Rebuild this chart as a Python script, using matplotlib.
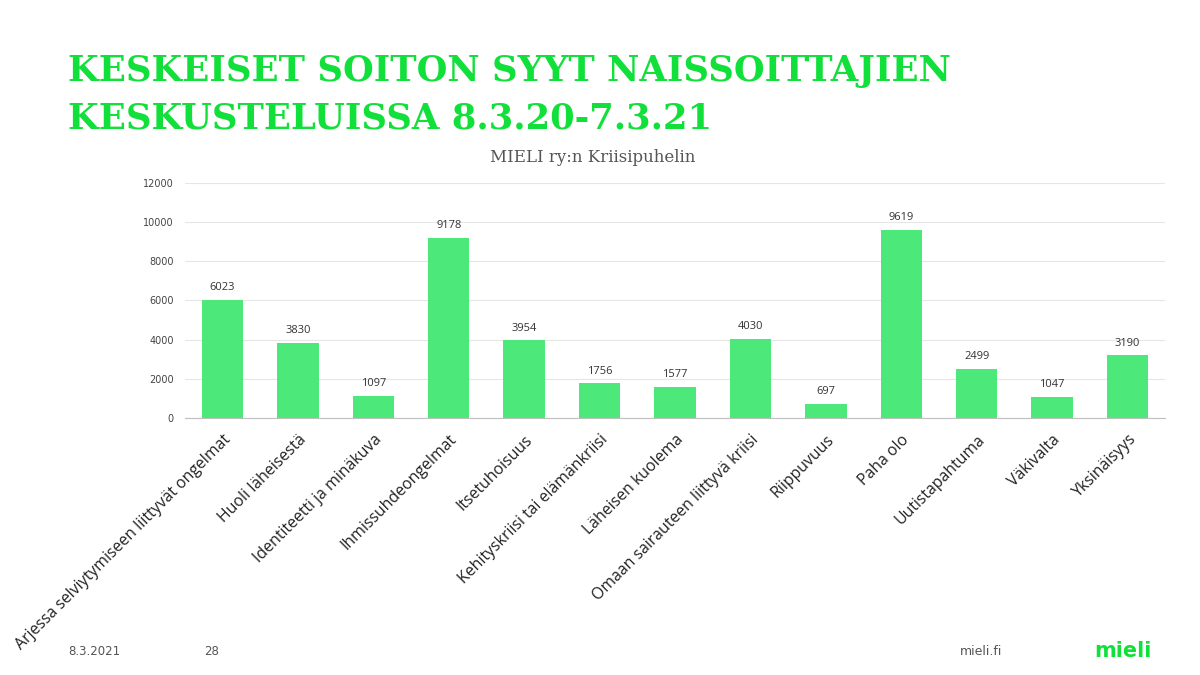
import matplotlib
matplotlib.use("Agg")
import matplotlib.pyplot as plt

categories = ["Arjessa selviytymiseen liittyvät ongelmat", "Huoli läheisestä", "Identiteetti ja minäkuva",
              "Ihmissuhdeongelmat", "Itsetuhoisuus", "Kehityskriisi tai elämänkriisi", "Läheisen kuolema",
              "Omaan sairauteen liittyvä kriisi", "Riippuvuus", "Paha olo", "Uutistapahtuma", "Väkivalta",
              "Yksinäisyys"]
values = [6023, 3830, 1097, 9178, 3954, 1756, 1577, 4030, 697, 9619, 2499, 1047, 3190]
yticks = [0, 2000, 4000, 6000, 8000, 10000, 12000]

fig = plt.figure(figsize=(12, 6.75), dpi=100)
ax = fig.add_axes([0.154, 0.381, 0.817, 0.348])
x = range(len(categories))
ax.bar(x, values, width=0.55, color="#4de87a")
for xi, v in zip(x, values):
    ax.text(xi, v + 350, str(v), ha="center", va="bottom", fontsize=8, color="#333333", family="Open Sans")
ax.set_ylim(0, 12000)
ax.set_xlim(-0.5, len(categories) - 0.5)
ax.set_yticks(yticks)
ax.set_yticklabels([str(t) for t in yticks], fontsize=7, color="#444444")
ax.set_xticks(list(x))
ax.set_xticklabels(categories, rotation=45, ha="right", rotation_mode="anchor", fontsize=11.4,
                   color="#222222", family="Open Sans")
ax.tick_params(length=0, pad=8)
ax.tick_params(axis="x", pad=10)
ax.grid(axis="y", color="#e6e6e6", linewidth=0.8)
ax.set_axisbelow(True)
for s in ["top", "right", "left"]:
    ax.spines[s].set_visible(False)
ax.spines["bottom"].set_color("#bfbfbf")

fig.text(0.057, 0.895, "KESKEISET SOITON SYYT NAISSOITTAJIEN", fontsize=25.5, fontweight="bold",
         family="DejaVu Serif", color="#12e03a", va="center")
fig.text(0.057, 0.824, "KESKUSTELUISSA 8.3.20-7.3.21", fontsize=25.5, fontweight="bold",
         family="DejaVu Serif", color="#12e03a", va="center")
fig.text(0.494, 0.767, "MIELI ry:n Kriisipuhelin", fontsize=12, family="DejaVu Serif",
         color="#555555", ha="center", va="center")
fig.text(0.057, 0.035, "8.3.2021", fontsize=8.5, color="#555555", va="center")
fig.text(0.17, 0.035, "28", fontsize=8.5, color="#555555", va="center")
fig.text(0.80, 0.035, "mieli.fi", fontsize=9, color="#555555", va="center")
fig.text(0.912, 0.035, "mieli", fontsize=15, fontweight="bold", color="#12e03a", va="center")
fig.savefig("out.png", dpi=100)
